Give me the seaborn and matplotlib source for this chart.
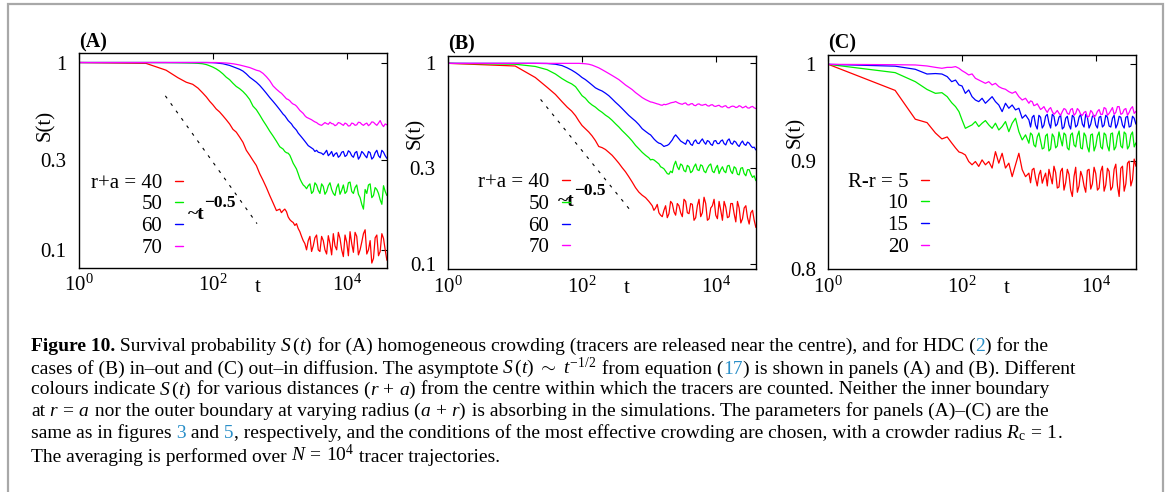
import matplotlib
matplotlib.use("Agg")
import matplotlib.pyplot as plt
import numpy as np
import pandas as pd
import seaborn as sns
from matplotlib.ticker import FixedLocator, FixedFormatter, NullLocator
from matplotlib.offsetbox import TextArea, HPacker, AnnotationBbox
from matplotlib.patches import Rectangle

# ---------------- data ----------------
T_EARLY = [1, 10, 20, 30, 40, 50, 60, 70, 80, 90, 100]
LOGT_LATE = [2.05, 2.10, 2.15, 2.20, 2.25, 2.30, 2.35, 2.40, 2.45, 2.50,
             2.55, 2.60, 2.65, 2.70, 2.75, 2.80, 2.85, 2.90, 2.95, 3.00,
             3.05, 3.10, 3.15, 3.20, 3.25, 3.30, 3.35, 3.40, 3.45, 3.50,
             3.55, 3.60, 3.65, 3.70, 3.75, 3.80, 3.85, 3.90, 3.95, 4.00,
             4.05, 4.10, 4.15, 4.20, 4.25, 4.30, 4.35, 4.40, 4.45, 4.50,
             4.55, 4.60]
# extra samples in the noisy long-time part
LOGT_MID = [3.025, 3.075, 3.125, 3.175, 3.225, 3.275, 3.325, 3.375,
            3.425, 3.475, 3.525, 3.575, 3.625, 3.675, 3.725, 3.775,
            3.825, 3.875, 3.925, 3.975, 4.025, 4.075, 4.125, 4.175,
            4.225, 4.275, 4.325, 4.375, 4.425, 4.475, 4.525, 4.575]
TIME = T_EARLY + [10 ** e for e in LOGT_LATE]
TIME_MID = [10 ** e for e in LOGT_MID]

# Panel A: homogeneous crowding, r+a = 40, 50, 60, 70
A_40 = [1.0, 0.99, 0.91, 0.83, 0.785, 0.765, 0.73, 0.69, 0.655, 0.62, 0.595,
        0.565, 0.545, 0.52, 0.495, 0.47, 0.44, 0.425, 0.40, 0.375, 0.34,
        0.32, 0.30, 0.282, 0.255, 0.235, 0.215, 0.195, 0.178, 0.162, 0.165,
        0.162, 0.16, 0.145, 0.14, 0.138, 0.125, 0.112,
        0.10, 0.118, 0.105, 0.12, 0.098, 0.112, 0.095, 0.108, 0.122, 0.1,
        0.115, 0.092, 0.11, 0.125, 0.097, 0.118, 0.1, 0.122, 0.095, 0.112,
        0.09, 0.12, 0.098, 0.115, 0.088]
A_40_MID = [0.158, 0.165, 0.15, 0.142, 0.135, 0.13, 0.118, 0.108,
            0.112, 0.098, 0.116, 0.1, 0.118, 0.1, 0.119, 0.094,
            0.105, 0.124, 0.1, 0.12, 0.093, 0.108, 0.124, 0.094,
            0.11, 0.128, 0.1, 0.085, 0.116, 0.093, 0.122, 0.1]
A_50 = [1.0, 1.0, 0.999, 0.997, 0.995, 0.993, 0.99, 0.985, 0.975, 0.96, 0.945,
        0.925, 0.90, 0.87, 0.835, 0.81, 0.775, 0.745, 0.725, 0.70, 0.67,
        0.635, 0.585, 0.56, 0.525, 0.49, 0.46, 0.43, 0.405, 0.38, 0.355,
        0.345, 0.33, 0.32, 0.29, 0.27, 0.24, 0.222,
        0.212, 0.225, 0.205, 0.222, 0.2, 0.218, 0.205, 0.228, 0.2, 0.215,
        0.198, 0.222, 0.205, 0.23, 0.2, 0.222, 0.19, 0.165, 0.2, 0.225,
        0.195, 0.21, 0.185, 0.22, 0.195]
A_50_MID = [0.35, 0.335, 0.328, 0.305, 0.28, 0.255, 0.23, 0.218,
            0.22, 0.2, 0.228, 0.208, 0.225, 0.198, 0.22, 0.21,
            0.195, 0.225, 0.208, 0.2, 0.228, 0.205, 0.215, 0.198,
            0.175, 0.21, 0.222, 0.19, 0.215, 0.2, 0.175, 0.205]
A_60 = [1.0, 1.0, 1.0, 1.0, 1.0, 1.0, 1.0, 1.0, 1.0, 0.999, 0.998,
        0.995, 0.99, 0.985, 0.975, 0.965, 0.95, 0.935, 0.92, 0.9, 0.87,
        0.835, 0.81, 0.785, 0.755, 0.72, 0.685, 0.65, 0.62, 0.59, 0.56,
        0.53, 0.505, 0.48, 0.455, 0.435, 0.41, 0.39,
        0.37, 0.355, 0.345, 0.34, 0.33, 0.322, 0.34, 0.325, 0.315, 0.33,
        0.318, 0.335, 0.32, 0.332, 0.312, 0.335, 0.315, 0.328, 0.31, 0.33,
        0.312, 0.34, 0.31, 0.332, 0.308]
A_60_MID = [0.545, 0.52, 0.49, 0.47, 0.445, 0.42, 0.4, 0.38,
            0.36, 0.35, 0.335, 0.332, 0.328, 0.33, 0.318, 0.335,
            0.325, 0.312, 0.332, 0.315, 0.338, 0.318, 0.33, 0.305,
            0.335, 0.318, 0.335, 0.305, 0.33, 0.318, 0.34, 0.318]
A_70 = [1.0, 1.0, 1.0, 1.0, 1.0, 1.0, 1.0, 1.0, 1.0, 1.0, 1.0,
        1.0, 0.998, 0.996, 0.994, 0.99, 0.985, 0.978, 0.97, 0.96, 0.95,
        0.94, 0.925, 0.91, 0.9, 0.875, 0.84, 0.8, 0.75, 0.72, 0.695,
        0.67, 0.64, 0.625, 0.6, 0.585, 0.555, 0.535,
        0.51, 0.5, 0.488, 0.478, 0.465, 0.47, 0.472, 0.48, 0.47, 0.465,
        0.475, 0.462, 0.47, 0.46, 0.472, 0.465, 0.478, 0.462, 0.475, 0.468,
        0.48, 0.462, 0.49, 0.455, 0.465]
A_70_MID = [0.685, 0.655, 0.635, 0.61, 0.595, 0.57, 0.545, 0.52,
            0.505, 0.495, 0.482, 0.47, 0.462, 0.478, 0.468, 0.472,
            0.46, 0.478, 0.468, 0.475, 0.458, 0.475, 0.462, 0.48,
            0.468, 0.47, 0.46, 0.482, 0.47, 0.475, 0.468, 0.47]

# Panel B: in-out diffusion, r+a = 40, 50, 60, 70
B_40 = [1.0, 0.97, 0.85, 0.76, 0.70, 0.645, 0.605, 0.578, 0.548, 0.515, 0.49,
        0.472, 0.455, 0.435, 0.412, 0.385, 0.38, 0.372, 0.36, 0.348, 0.333,
        0.318, 0.302, 0.288, 0.272, 0.256, 0.24, 0.228, 0.22, 0.214, 0.205,
        0.195, 0.19, 0.18, 0.172, 0.195, 0.178, 0.2,
        0.175, 0.195, 0.172, 0.205, 0.178, 0.198, 0.17, 0.21, 0.18, 0.2,
        0.168, 0.195, 0.175, 0.205, 0.165, 0.192, 0.172, 0.2, 0.162, 0.19,
        0.168, 0.195, 0.158, 0.185, 0.152]
B_40_MID = [0.2, 0.185, 0.198, 0.175, 0.185, 0.17, 0.205, 0.182,
            0.2, 0.18, 0.21, 0.18, 0.2, 0.165, 0.195, 0.172,
            0.215, 0.165, 0.19, 0.21, 0.168, 0.185, 0.205, 0.17,
            0.2, 0.178, 0.205, 0.16, 0.19, 0.17, 0.18, 0.165]
B_50 = [1.0, 0.99, 0.965, 0.93, 0.885, 0.84, 0.81, 0.79, 0.765, 0.725, 0.69,
        0.67, 0.64, 0.62, 0.605, 0.585, 0.57, 0.552, 0.538, 0.52, 0.5,
        0.482, 0.462, 0.445, 0.428, 0.41, 0.39, 0.375, 0.36, 0.348, 0.338,
        0.332, 0.325, 0.315, 0.302, 0.29, 0.28, 0.285,
        0.325, 0.295, 0.31, 0.288, 0.305, 0.29, 0.315, 0.292, 0.308, 0.285,
        0.31, 0.29, 0.3, 0.282, 0.305, 0.285, 0.31, 0.282, 0.3, 0.278,
        0.302, 0.275, 0.295, 0.27, 0.26]
B_50_MID = [0.33, 0.33, 0.32, 0.305, 0.298, 0.282, 0.29, 0.31,
            0.305, 0.315, 0.292, 0.31, 0.285, 0.305, 0.295, 0.312,
            0.29, 0.3, 0.315, 0.285, 0.31, 0.295, 0.29, 0.308,
            0.29, 0.305, 0.28, 0.3, 0.282, 0.295, 0.28, 0.275]
B_60 = [1.0, 1.0, 1.0, 0.998, 0.99, 0.975, 0.95, 0.925, 0.9, 0.875, 0.85,
        0.83, 0.805, 0.78, 0.755, 0.74, 0.728, 0.71, 0.69, 0.665, 0.64,
        0.618, 0.595, 0.572, 0.55, 0.532, 0.515, 0.495, 0.472, 0.458, 0.445,
        0.43, 0.412, 0.4, 0.392, 0.388, 0.395, 0.415,
        0.44, 0.42, 0.405, 0.395, 0.41, 0.39, 0.415, 0.398, 0.42, 0.395,
        0.408, 0.39, 0.412, 0.398, 0.415, 0.392, 0.42, 0.395, 0.405, 0.385,
        0.41, 0.39, 0.4, 0.38, 0.37]
B_60_MID = [0.44, 0.42, 0.405, 0.398, 0.385, 0.39, 0.405, 0.43,
            0.43, 0.41, 0.4, 0.415, 0.395, 0.408, 0.4, 0.41,
            0.405, 0.412, 0.395, 0.41, 0.398, 0.41, 0.398, 0.412,
            0.4, 0.41, 0.392, 0.4, 0.395, 0.405, 0.388, 0.382]
B_70 = [1.0, 1.0, 1.0, 1.0, 1.0, 1.0, 1.0, 1.0, 1.0, 1.0, 0.998,
        0.995, 0.99, 0.98, 0.965, 0.95, 0.93, 0.91, 0.89, 0.87, 0.85,
        0.83, 0.805, 0.78, 0.76, 0.74, 0.715, 0.695, 0.675, 0.66, 0.648,
        0.64, 0.632, 0.625, 0.618, 0.622, 0.63, 0.638,
        0.645, 0.632, 0.625, 0.635, 0.62, 0.63, 0.615, 0.628, 0.618, 0.625,
        0.612, 0.622, 0.61, 0.618, 0.605, 0.615, 0.6, 0.612, 0.602, 0.615,
        0.6, 0.612, 0.598, 0.61, 0.595]
B_70_MID = [0.642, 0.636, 0.628, 0.62, 0.625, 0.626, 0.635, 0.64,
            0.638, 0.628, 0.632, 0.622, 0.628, 0.618, 0.625, 0.62,
            0.622, 0.615, 0.62, 0.612, 0.615, 0.608, 0.612, 0.602,
            0.608, 0.61, 0.605, 0.61, 0.605, 0.6, 0.606, 0.6]

# Panel C: out-in diffusion, R-r = 5, 10, 15, 20
C_5 = [1.0, 0.972, 0.942, 0.9385, 0.928, 0.922, 0.924, 0.918, 0.913, 0.909, 0.908,
       0.906, 0.8996, 0.8964, 0.8996, 0.8948, 0.9012, 0.8964, 0.8996, 0.8932, 0.9093,
       0.898, 0.9077, 0.8932, 0.898, 0.8849, 0.8964, 0.9077, 0.8916, 0.8849, 0.8883,
       0.8916, 0.8833, 0.8866, 0.8786, 0.8883, 0.892, 0.878,
       0.889, 0.875, 0.893, 0.879, 0.887, 0.866, 0.894, 0.876, 0.885, 0.87,
       0.892, 0.878, 0.888, 0.874, 0.895, 0.877, 0.89, 0.875, 0.897, 0.866,
       0.895, 0.878, 0.9, 0.882, 0.895]
C_5_MID = [0.879, 0.893, 0.876, 0.891, 0.884, 0.876, 0.885, 0.895,
           0.874, 0.89, 0.872, 0.892, 0.872, 0.885, 0.87, 0.89,
           0.876, 0.891, 0.873, 0.894, 0.872, 0.89, 0.871, 0.893,
           0.872, 0.892, 0.876, 0.893, 0.871, 0.898, 0.876, 0.902]
C_10 = [1.0, 0.991, 0.9813, 0.973, 0.9689, 0.9696, 0.9654, 0.9591, 0.955, 0.9498, 0.9413,
        0.9327, 0.9345, 0.9362, 0.9396, 0.9345, 0.9379, 0.9406, 0.9362, 0.9327, 0.9379,
        0.931, 0.9345, 0.9396, 0.9293, 0.9379, 0.943, 0.9293, 0.921, 0.9261, 0.9177,
        0.926, 0.914, 0.928, 0.912, 0.925, 0.91, 0.927,
        0.913, 0.929, 0.915, 0.926, 0.911, 0.928, 0.914, 0.93, 0.912, 0.925,
        0.909, 0.927, 0.915, 0.929, 0.912, 0.926, 0.91, 0.928, 0.914, 0.93,
        0.913, 0.927, 0.915, 0.929, 0.918]
C_10_MID = [0.928, 0.916, 0.924, 0.92, 0.913, 0.927, 0.912, 0.924,
            0.915, 0.922, 0.928, 0.913, 0.926, 0.916, 0.925, 0.913,
            0.928, 0.914, 0.926, 0.91, 0.925, 0.914, 0.928, 0.915,
            0.927, 0.911, 0.925, 0.915, 0.929, 0.912, 0.926, 0.914]
C_15 = [1.0, 0.998, 0.9946, 0.9895, 0.990, 0.9895, 0.9867, 0.9813, 0.983, 0.9778, 0.9767,
        0.9689, 0.9725, 0.9654, 0.9619, 0.9602, 0.9637, 0.9585, 0.9619, 0.9654, 0.9602,
        0.9567, 0.9498, 0.9585, 0.9533, 0.9567, 0.9516, 0.9533, 0.943, 0.9464, 0.9413,
        0.944, 0.936, 0.946, 0.933, 0.945, 0.938, 0.947,
        0.935, 0.944, 0.932, 0.943, 0.936, 0.946, 0.934, 0.944, 0.937, 0.947,
        0.933, 0.945, 0.936, 0.944, 0.934, 0.946, 0.935, 0.943, 0.933, 0.945,
        0.936, 0.944, 0.934, 0.945, 0.937]
C_15_MID = [0.934, 0.946, 0.932, 0.944, 0.936, 0.947, 0.933, 0.945,
            0.937, 0.946, 0.934, 0.945, 0.932, 0.944, 0.936, 0.947,
            0.934, 0.944, 0.937, 0.946, 0.933, 0.945, 0.936, 0.944,
            0.934, 0.946, 0.937, 0.944, 0.933, 0.945, 0.935, 0.943]
C_20 = [1.0, 0.9996, 0.9993, 0.9982, 0.9967, 0.9957, 0.9967, 0.9967, 0.9975, 0.9957, 0.9931,
        0.991, 0.9885, 0.9896, 0.9849, 0.9831, 0.9813, 0.9795, 0.9813, 0.9778, 0.9795,
        0.976, 0.9742, 0.9732, 0.9707, 0.969, 0.9707, 0.9654, 0.9619, 0.9637, 0.9585,
        0.9602, 0.9567, 0.955, 0.9533, 0.9516, 0.9523, 0.9498,
        0.9488, 0.9481, 0.9498, 0.952, 0.947, 0.953, 0.948, 0.951, 0.946, 0.95,
        0.945, 0.949, 0.946, 0.952, 0.947, 0.953, 0.948, 0.954, 0.949, 0.955,
        0.948, 0.953, 0.949, 0.955, 0.95]
C_20_MID = [0.961, 0.956, 0.958, 0.952, 0.955, 0.949, 0.954, 0.947,
            0.951, 0.946, 0.953, 0.948, 0.952, 0.946, 0.953, 0.947,
            0.949, 0.944, 0.951, 0.944, 0.95, 0.947, 0.954, 0.946,
            0.951, 0.947, 0.955, 0.947, 0.952, 0.946, 0.953, 0.948]

# asymptote S ~ t^-0.5 (dashed guide lines, end points)
ASYM_A_T = [19.5, 457]
ASYM_A_S = [0.664, 0.138]
ASYM_B_T = [24, 557]
ASYM_B_S = [0.661, 0.181]

SERIES_AB = ["40", "50", "60", "70"]
SERIES_C = ["5", "10", "15", "20"]
LEGEND_AB = ["r+a = 40", "50", "60", "70"]
LEGEND_C = ["R-r = 5", "10", "15", "20"]
COLORS = ["#ff0000", "#00ee00", "#0000ff", "#ff00ff"]

X_TICKS = [1, 100, 10000]
X_TICKLABELS = [r"$10^{0}$", r"$10^{2}$", r"$10^{4}$"]
Y_TICKS_AB = [0.1, 0.3, 1]
Y_TICKLABELS_AB = ["0.1", "0.3", "1"]
Y_TICKS_C = [0.8, 0.9, 1]
Y_TICKLABELS_C = ["0.8", "0.9", "1"]

# ---------------- style ----------------
sns.set_theme(style="white")
plt.rcParams["font.family"] = ["Liberation Serif", "DejaVu Serif"]
plt.rcParams["mathtext.fontset"] = "custom"
plt.rcParams["mathtext.rm"] = "Liberation Serif"
plt.rcParams["mathtext.it"] = "Liberation Serif:italic"
plt.rcParams["mathtext.bf"] = "Liberation Serif:bold"
plt.rcParams["lines.scale_dashes"] = False
plt.rcParams["axes.edgecolor"] = "black"
plt.rcParams["text.color"] = "black"
plt.rcParams["xtick.color"] = "black"
plt.rcParams["ytick.color"] = "black"

W, H = 1167, 492
fig = plt.figure(figsize=(W / 100, H / 100), dpi=100)
FS = 15


def px_rect(left, top, right, bottom):
    return [left / W, (H - bottom) / H, (right - left) / W, (bottom - top) / H]


panels = [
    dict(rect=px_rect(79, 53.3, 387, 268),
         series=[(A_40, A_40_MID), (A_50, A_50_MID), (A_60, A_60_MID), (A_70, A_70_MID)],
         names=SERIES_AB, leg=LEGEND_AB, ylim=(0.08, 1.12), yt=Y_TICKS_AB,
         ytl=Y_TICKLABELS_AB, tag="(A)", leg_anchor=(0.338, 0.4415),
         asym=(ASYM_A_T, ASYM_A_S), ann=((0.354, 0.247), (0.405, 0.304)),
         ylab=(-0.110, 0.666)),
    dict(rect=px_rect(448.3, 56, 756, 269.3),
         series=[(B_40, B_40_MID), (B_50, B_50_MID), (B_60, B_60_MID), (B_70, B_70_MID)],
         names=SERIES_AB, leg=LEGEND_AB, ylim=(0.094, 1.088), yt=Y_TICKS_AB,
         ytl=Y_TICKLABELS_AB, tag="(B)", leg_anchor=(0.3955, 0.452),
         asym=(ASYM_B_T, ASYM_B_S), ann=((0.3575, 0.317), (0.4085, 0.3685)),
         ylab=(-0.108, 0.639)),
    dict(rect=px_rect(828.3, 55, 1136, 269.3),
         series=[(C_5, C_5_MID), (C_10, C_10_MID), (C_15, C_15_MID), (C_20, C_20_MID)],
         names=SERIES_C, leg=LEGEND_C, ylim=(0.8, 1.0102), yt=Y_TICKS_C,
         ytl=Y_TICKLABELS_C, tag="(C)", leg_anchor=(0.328, 0.453),
         asym=None, ann=None, ylab=(-0.108, 0.64)),
]

for i, p in enumerate(panels):
    ax = fig.add_axes(p["rect"])
    rows = []
    for name, (vals, mids) in zip(p["names"], p["series"]):
        for t, s in zip(TIME + TIME_MID, vals + mids):
            rows.append((t, s, name))
    df = pd.DataFrame(rows, columns=["t", "S", "series"])
    sns.lineplot(data=df, x="t", y="S", hue="series", hue_order=p["names"],
                 palette=COLORS, linewidth=0.9, estimator=None, sort=True,
                 ax=ax, legend=True)
    ax.set_xscale("log")
    ax.set_yscale("log")
    ax.set_xlim(1, 4e4)
    ax.set_ylim(*p["ylim"])
    ax.xaxis.set_major_locator(FixedLocator(X_TICKS))
    ax.xaxis.set_major_formatter(FixedFormatter(X_TICKLABELS))
    ax.xaxis.set_minor_locator(NullLocator())
    ax.yaxis.set_major_locator(FixedLocator(p["yt"]))
    ax.yaxis.set_major_formatter(FixedFormatter(p["ytl"]))
    ax.yaxis.set_minor_locator(NullLocator())
    ax.tick_params(which="both", direction="in", top=True, right=True,
                   length=4, width=0.8, labelsize=FS)
    ax.tick_params(axis="x", pad=5)
    ax.tick_params(axis="y", pad=9)
    for sp in ax.spines.values():
        sp.set_color("black")
        sp.set_linewidth(1.0)
    ax.set_xlabel("")
    ax.set_ylabel("")
    ax.text(p["ylab"][0], p["ylab"][1], "S(t)", transform=ax.transAxes,
            rotation=90, ha="center", va="center", fontsize=FS)
    ax.text(0.581, -0.09, "t", transform=ax.transAxes, ha="center",
            va="center", fontsize=FS)
    ax.text(0.0, 1.052, p["tag"], transform=ax.transAxes, ha="left",
            va="center", fontsize=14.5, fontweight="bold")

    if p["asym"] is not None:
        ax.plot(p["asym"][0], p["asym"][1], color="black", lw=0.8,
                linestyle=(0, (2.2, 4.4)))

    handles, labels = ax.get_legend_handles_labels()
    leg = ax.legend(handles[:4], p["leg"], loc="upper right",
                    bbox_to_anchor=p["leg_anchor"], frameon=False,
                    markerfirst=False, handlelength=0.38, handletextpad=0.62,
                    labelspacing=0.1, borderpad=0, borderaxespad=0,
                    fontsize=FS)
    for col in leg._legend_handle_box.get_children():
        col.align = "right"
    for lh in leg.get_lines():
        lh.set_linewidth(1.0)

    if p["ann"] is not None:
        bb = dict(facecolor="white", edgecolor="none", pad=0.5) if i == 1 else None
        ax.text(p["ann"][0][0], p["ann"][0][1], "~t", transform=ax.transAxes,
                ha="left", va="center", fontsize=14, fontweight="bold",
                bbox=bb, zorder=5)
        ax.text(p["ann"][1][0], p["ann"][1][1], "\u22120.5",
                transform=ax.transAxes, ha="left", va="center",
                fontsize=12.5, fontweight="bold", zorder=5)

# ---------------- caption ----------------
BLUE = "#2a8fc8"
CFS = 14.0
cap_lines = [
    [("Figure 10.", "b"), (" Survival probability", "n"), (r"$\ S\,(t)$", "n"),
     (" for (A) homogeneous crowding (tracers are released near the centre), and for HDC (", "n"),
     ("2", "l"), (") for the", "n")],
    [("cases of (B) in\u2013out and (C) out\u2013in diffusion. The asymptote", "n"),
     (r"$\ S\,(t)\ \sim\ t^{-1/2}$", "n"), (" from equation (", "n"), ("17", "l"),
     (") is shown in panels (A) and (B). Different", "n")],
    [("colours indicate", "n"), (r"$\ S\,(t)$", "n"), (" for various distances", "n"),
     (r"$\ (r\,+\,a)$", "n"),
     (" from the centre within which the tracers are counted. Neither the inner boundary", "n")],
    [("at", "n"), (r"$\ r\,=\,a$", "n"), (" nor the outer boundary at varying radius", "n"),
     (r"$\ (a\,+\,r)$", "n"),
     (" is absorbing in the simulations. The parameters for panels (A)\u2013(C) are the", "n")],
    [("same as in figures", "n"), (" 3", "l"), (" and", "n"), (" 5", "l"),
     (", respectively, and the conditions of the most effective crowding are chosen, with a crowder radius", "n"),
     (r"$\ R_{\mathrm{c}}\,=\,1$", "n"), (".", "n")],
    [("The averaging is performed over", "n"), (r"$\ N\,=\,10^{4}$", "n"),
     (" tracer trajectories.", "n")],
]
cap_y = [346.7, 368.3, 390.0, 411.7, 433.3, 455.0]

over = fig.add_axes([0, 0, 1, 1])
over.axis("off")
over.patch.set_alpha(0)
for line, yc in zip(cap_lines, cap_y):
    kids = []
    for txt, kind in line:
        props = dict(fontsize=CFS, color="black")
        if kind == "b":
            props["fontweight"] = "bold"
        if kind == "l":
            props["color"] = BLUE
        kids.append(TextArea(txt, textprops=props))
    pack = HPacker(children=kids, align="baseline", pad=0, sep=0)
    ab = AnnotationBbox(pack, (31, H - yc), xycoords="figure pixels",
                        box_alignment=(0, 0.5), frameon=False, pad=0)
    over.add_artist(ab)

# gray frame around the figure panel
fig.add_artist(Rectangle((8 / W, -0.05), (1163 - 8) / W, 1 - 4 / H + 0.05,
                         transform=fig.transFigure, fill=False,
                         edgecolor="#a8a8a8", linewidth=1.6))

fig.savefig("out.png", dpi=100)
